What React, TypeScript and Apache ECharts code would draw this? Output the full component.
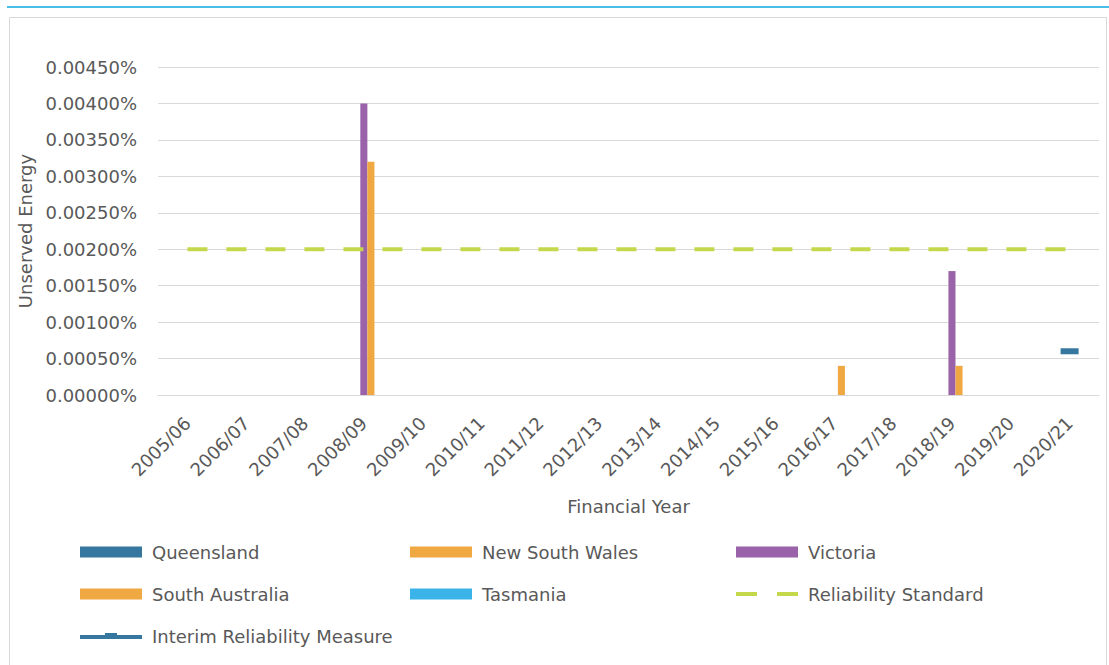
import React, { useEffect, useRef } from "react";
import * as echarts from "echarts";

// Financial years on the category axis
const years = [
  "2005/06", "2006/07", "2007/08", "2008/09", "2009/10", "2010/11", "2011/12", "2012/13",
  "2013/14", "2014/15", "2015/16", "2016/17", "2017/18", "2018/19", "2019/20", "2020/21",
];

// Unserved energy by region, in percent of demand
const queensland = [0, 0, 0, 0, 0, 0, 0, 0, 0, 0, 0, 0, 0, 0, 0, 0];
const newSouthWales = [0, 0, 0, 0, 0, 0, 0, 0, 0, 0, 0, 0, 0, 0, 0, 0];
const victoria = [0, 0, 0, 0.004, 0, 0, 0, 0, 0, 0, 0, 0, 0, 0.0017, 0, 0];
const southAustralia = [0, 0, 0, 0.0032, 0, 0, 0, 0, 0, 0, 0, 0.0004, 0, 0.0004, 0, 0];
const tasmania = [0, 0, 0, 0, 0, 0, 0, 0, 0, 0, 0, 0, 0, 0, 0, 0];
const reliabilityStandard = [
  0.002, 0.002, 0.002, 0.002, 0.002, 0.002, 0.002, 0.002,
  0.002, 0.002, 0.002, 0.002, 0.002, 0.002, 0.002, 0.002,
];
const interimMeasure = [
  null, null, null, null, null, null, null, null,
  null, null, null, null, null, null, null, 0.0006,
];

const FONT = "DejaVu Sans";
const TEXT = "#595959";

// Legend glyphs: two dashes for the standard, a thick line with a small marker for the interim measure
const DASH_ICON = "path://M0,0h21v4h-21zM41,0h21v4h-21z";
const INTERIM_ICON = "path://M0,2h62v4h-62zM25,0h12v2h-12z";

export default function App() {
  const ref = useRef<HTMLDivElement>(null);

  useEffect(() => {
    if (!ref.current) return;
    const chart = echarts.init(ref.current, undefined, { renderer: "svg" });

    const bar = (name: string, data: number[], color: string) => ({
      name,
      type: "bar",
      data,
      itemStyle: { color },
      barGap: "0%",
      barCategoryGap: "40%",
    });

    const legendBase = {
      orient: "vertical",
      top: 542,
      padding: 0,
      itemWidth: 62,
      itemHeight: 11,
      itemGap: 22,
      textStyle: { fontFamily: FONT, fontSize: 18, color: TEXT, lineHeight: 20, padding: [0, 0, 0, 5] },
    };

    chart.setOption({
      animation: false,
      textStyle: { fontFamily: FONT },
      graphic: [
        { type: "line", shape: { x1: 7, y1: 7, x2: 1109, y2: 7 }, style: { stroke: "#48BDE6", lineWidth: 2 } },
        {
          type: "rect",
          shape: { x: 9.5, y: 17.5, width: 1097, height: 660 },
          style: { fill: "none", stroke: "#D9D9D9", lineWidth: 1 },
        },
      ],
      grid: { left: 158, right: 10, top: 67, bottom: 270 },
      legend: [
        { ...legendBase, left: 80, data: [
          { name: "Queensland", icon: "rect" },
          { name: "South Australia", icon: "rect" },
          { name: "Interim Reliability Measure", icon: INTERIM_ICON },
        ] },
        { ...legendBase, left: 410, data: [
          { name: "New South Wales", icon: "rect" },
          { name: "Tasmania", icon: "rect" },
        ] },
        { ...legendBase, left: 736, data: [
          { name: "Victoria", icon: "rect" },
          { name: "Reliability Standard", icon: DASH_ICON },
        ] },
      ],
      xAxis: {
        type: "category",
        data: years,
        name: "Financial Year",
        nameLocation: "middle",
        nameGap: 102,
        nameTextStyle: { fontFamily: FONT, fontSize: 18, color: TEXT },
        axisLine: { lineStyle: { color: "#D9D9D9" } },
        axisTick: { show: false },
        axisLabel: { rotate: 45, margin: 25, fontFamily: FONT, fontSize: 18, color: TEXT, interval: 0 },
      },
      yAxis: {
        type: "value",
        min: 0,
        max: 0.0045,
        interval: 0.0005,
        name: "Unserved Energy",
        nameLocation: "middle",
        nameGap: 118,
        nameTextStyle: { fontFamily: FONT, fontSize: 18, color: TEXT },
        axisLine: { show: false },
        axisTick: { show: false },
        splitLine: { lineStyle: { color: "#D9D9D9" } },
        axisLabel: {
          margin: 21,
          fontFamily: FONT,
          fontSize: 18,
          color: TEXT,
          formatter: (v: number) => v.toFixed(5) + "%",
        },
      },
      series: [
        bar("Queensland", queensland, "#3677A0"),
        bar("New South Wales", newSouthWales, "#EFA842"),
        bar("Victoria", victoria, "#9A62A8"),
        bar("South Australia", southAustralia, "#EFA842"),
        bar("Tasmania", tasmania, "#3AB4E8"),
        {
          name: "Reliability Standard",
          type: "line",
          data: reliabilityStandard,
          symbol: "none",
          itemStyle: { color: "#C5D84C" },
          lineStyle: { color: "#C5D84C", width: 4, type: [20, 19] },
          z: 3,
        },
        {
          name: "Interim Reliability Measure",
          type: "line",
          data: interimMeasure,
          symbol: "rect",
          symbolSize: [18, 6],
          showSymbol: true,
          itemStyle: { color: "#3677A0" },
          lineStyle: { color: "#3677A0", width: 4 },
          z: 4,
        },
      ],
    });

    return () => chart.dispose();
  }, []);

  return (
    <div
      ref={ref}
      style={{ position: "absolute", left: 0, top: 0, width: 1109, height: 665, background: "#FFFFFF" }}
    />
  );
}
